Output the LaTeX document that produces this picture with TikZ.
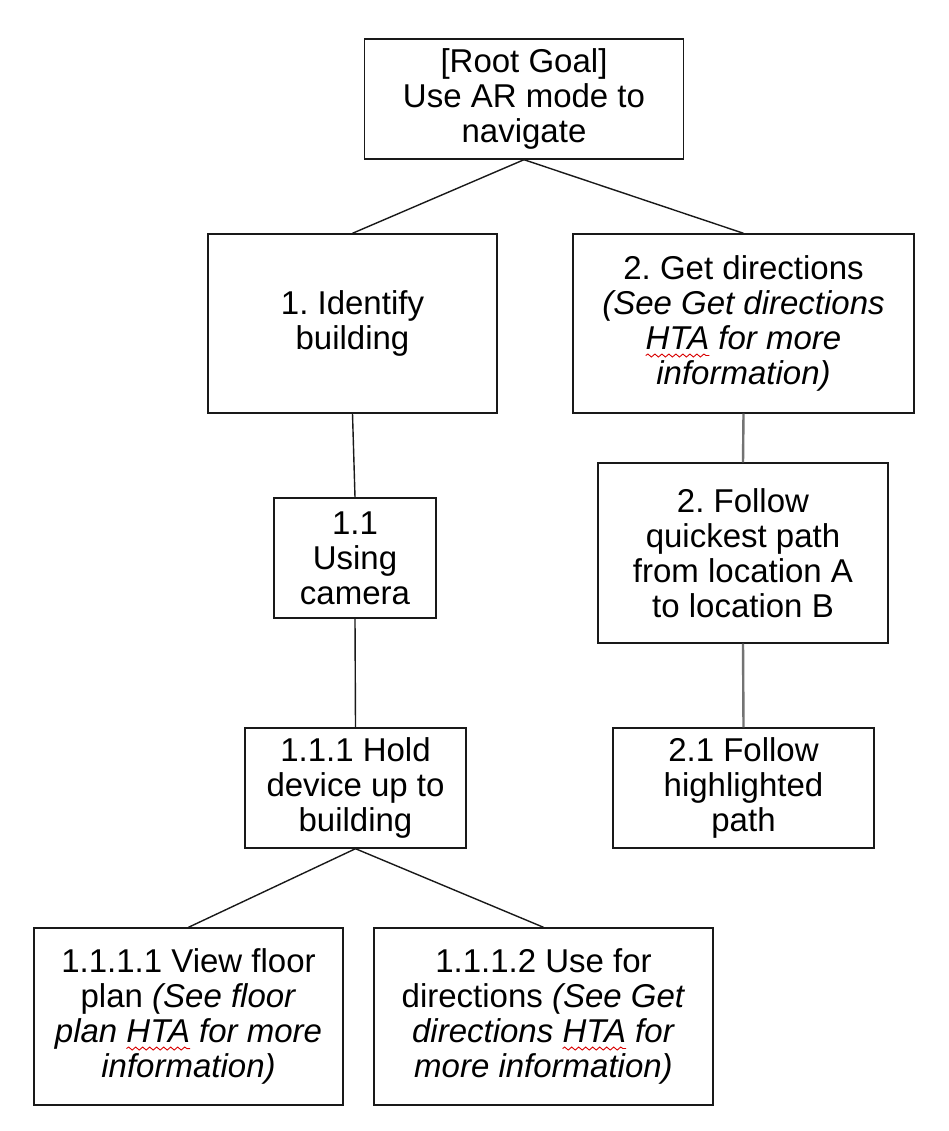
\documentclass[tikz,border=0pt]{standalone}
\usepackage{fontspec}
\setmainfont{Liberation Sans}
\usetikzlibrary{decorations.pathmorphing}
\frenchspacing
\newlength\wavelen
\newcommand\redwave[1]{\settowidth\wavelen{#1}\rlap{\tikz[baseline=0pt,x=1pt,y=1pt]{\useasboundingbox (0,0); \draw[overlay,red!85!black,line width=0.9pt,decorate,decoration={snake,amplitude=1.5pt,segment length=7pt}] (0,-6) -- (\wavelen,-6);}}#1}
\begin{document}
\begin{tikzpicture}[x=1pt,y=-1pt,
  box/.style={draw=black!90,line width=1.4pt,fill=white,inner sep=0pt,align=center,
    font=\frenchspacing\fontsize{33}{35}\selectfont},
  link/.style={draw=black!90,line width=1.4pt},
  glink/.style={draw=black!55,line width=2.4pt}]
\useasboundingbox[fill=white] (0,0) rectangle (949,1131);
\node[box,minimum width=319pt,minimum height=120pt] (root) at (524,99) {[Root Goal]\\Use AR mode to\\navigate};
\node[box,minimum width=289pt,minimum height=179pt] (b1) at (352.5,323.5) {1. Identify\\building};
\node[box,minimum width=341pt,minimum height=179pt] (b2) at (743.5,323.5) {2. Get directions\\\textit{(See Get directions}\\\textit{\redwave{HTA} for more}\\\textit{information)}};
\node[box,minimum width=162pt,minimum height=120pt] (b11) at (355,558) {1.1\\Using\\camera};
\node[box,minimum width=290pt,minimum height=180pt] (b2f) at (743,553) {2. Follow\\quickest path\\from location A\\to location B};
\node[box,minimum width=221pt,minimum height=120pt] (b111) at (355.5,788) {1.1.1 Hold\\device up to\\building};
\node[box,minimum width=261pt,minimum height=120pt] (b21) at (743.5,788) {2.1 Follow\\highlighted\\path};
\node[box,minimum width=309pt,minimum height=177pt] (b1111) at (188.5,1016.5) {1.1.1.1 View floor\\plan \textit{(See floor}\\\textit{plan \redwave{HTA} for more}\\\textit{information)}};
\node[box,minimum width=339pt,minimum height=177pt] (b1112) at (543.5,1016.5) {1.1.1.2 Use for\\directions \textit{(See Get}\\\textit{directions \redwave{HTA} for}\\\textit{more information)}};
\draw[link] (root.south) -- (b1.north);
\draw[link] (root.south) -- (b2.north);
\draw[link] (b1.south) -- (b11.north);
\draw[link] (b11.south) -- (b111.north);
\draw[link] (b111.south) -- (b1111.north);
\draw[link] (b111.south) -- (b1112.north);
\draw[glink] (b2.south) -- (b2f.north);
\draw[glink] (b2f.south) -- (b21.north);
\end{tikzpicture}
\end{document}
